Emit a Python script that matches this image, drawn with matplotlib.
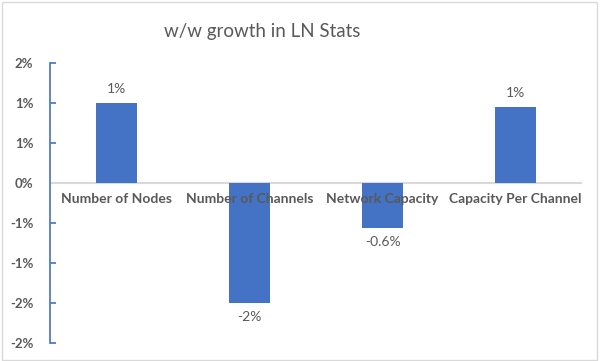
import math
import matplotlib
matplotlib.use('Agg')
import matplotlib.pyplot as plt
from matplotlib.patches import Rectangle
from matplotlib.ticker import FixedLocator, FuncFormatter

plt.rcParams['font.family'] = ['Lato', 'DejaVu Sans']

categories = ['Number of Nodes', 'Number of Channels', 'Network Capacity', 'Capacity Per Channel']
growth_pct = [1.0, -1.5, -0.56, 0.95]
bar_labels = ['1%', '-2%', '-0.6%', '1%']
y_ticks = [-2.0, -1.5, -1.0, -0.5, 0.0, 0.5, 1.0, 1.5]

BLUE = '#4472C4'
TEXT = '#595959'


def excel_pct(v, pos=None):
    # excel rounds half away from zero
    r = math.copysign(math.floor(abs(v) + 0.5), v)
    return f"{int(r)}%"


fig = plt.figure(figsize=(6, 3.61), dpi=100)
ax = fig.add_axes([50 / 600, 18 / 361, 532 / 600, 280 / 361])

x = range(len(categories))
bars = ax.bar(x, growth_pct, width=0.31, color=BLUE, zorder=3)

ax.set_xlim(-0.5, len(categories) - 0.5)
ax.set_ylim(-2.0, 1.5)
ax.yaxis.set_major_locator(FixedLocator(y_ticks))
ax.yaxis.set_major_formatter(FuncFormatter(excel_pct))

for s in ['top', 'right', 'bottom']:
    ax.spines[s].set_visible(False)
ax.spines['left'].set_color(BLUE)
ax.spines['left'].set_linewidth(1.2)
ax.tick_params(axis='y', direction='in', length=4, width=1.2, color=BLUE,
               labelcolor=TEXT, labelsize=9.5, pad=12)
for lbl in ax.get_yticklabels():
    lbl.set_fontweight('bold')
ax.set_xticks([])

# horizontal axis at zero
ax.axhline(0, color='#D9D9D9', linewidth=1.5, zorder=2)

for i, name in enumerate(categories):
    ax.text(i, -0.12, name, ha='center', va='top', fontsize=10,
            fontweight='bold', color=TEXT)

for i, (v, lab) in enumerate(zip(growth_pct, bar_labels)):
    if v >= 0:
        ax.text(i, v + 0.1, lab, ha='center', va='bottom', fontsize=10, color=TEXT)
    else:
        ax.text(i, v - 0.1, lab, ha='center', va='top', fontsize=10, color=TEXT)

fig.text(262 / 600, 1 - 31 / 361, 'w/w growth in LN Stats', ha='center', va='center',
         fontsize=13.5, color=TEXT)

fig.patches.append(Rectangle((0.003, 0.004), 0.992, 0.991, transform=fig.transFigure,
                             fill=False, edgecolor='#D9D9D9', linewidth=1.0))

fig.savefig('out.png', dpi=100)
